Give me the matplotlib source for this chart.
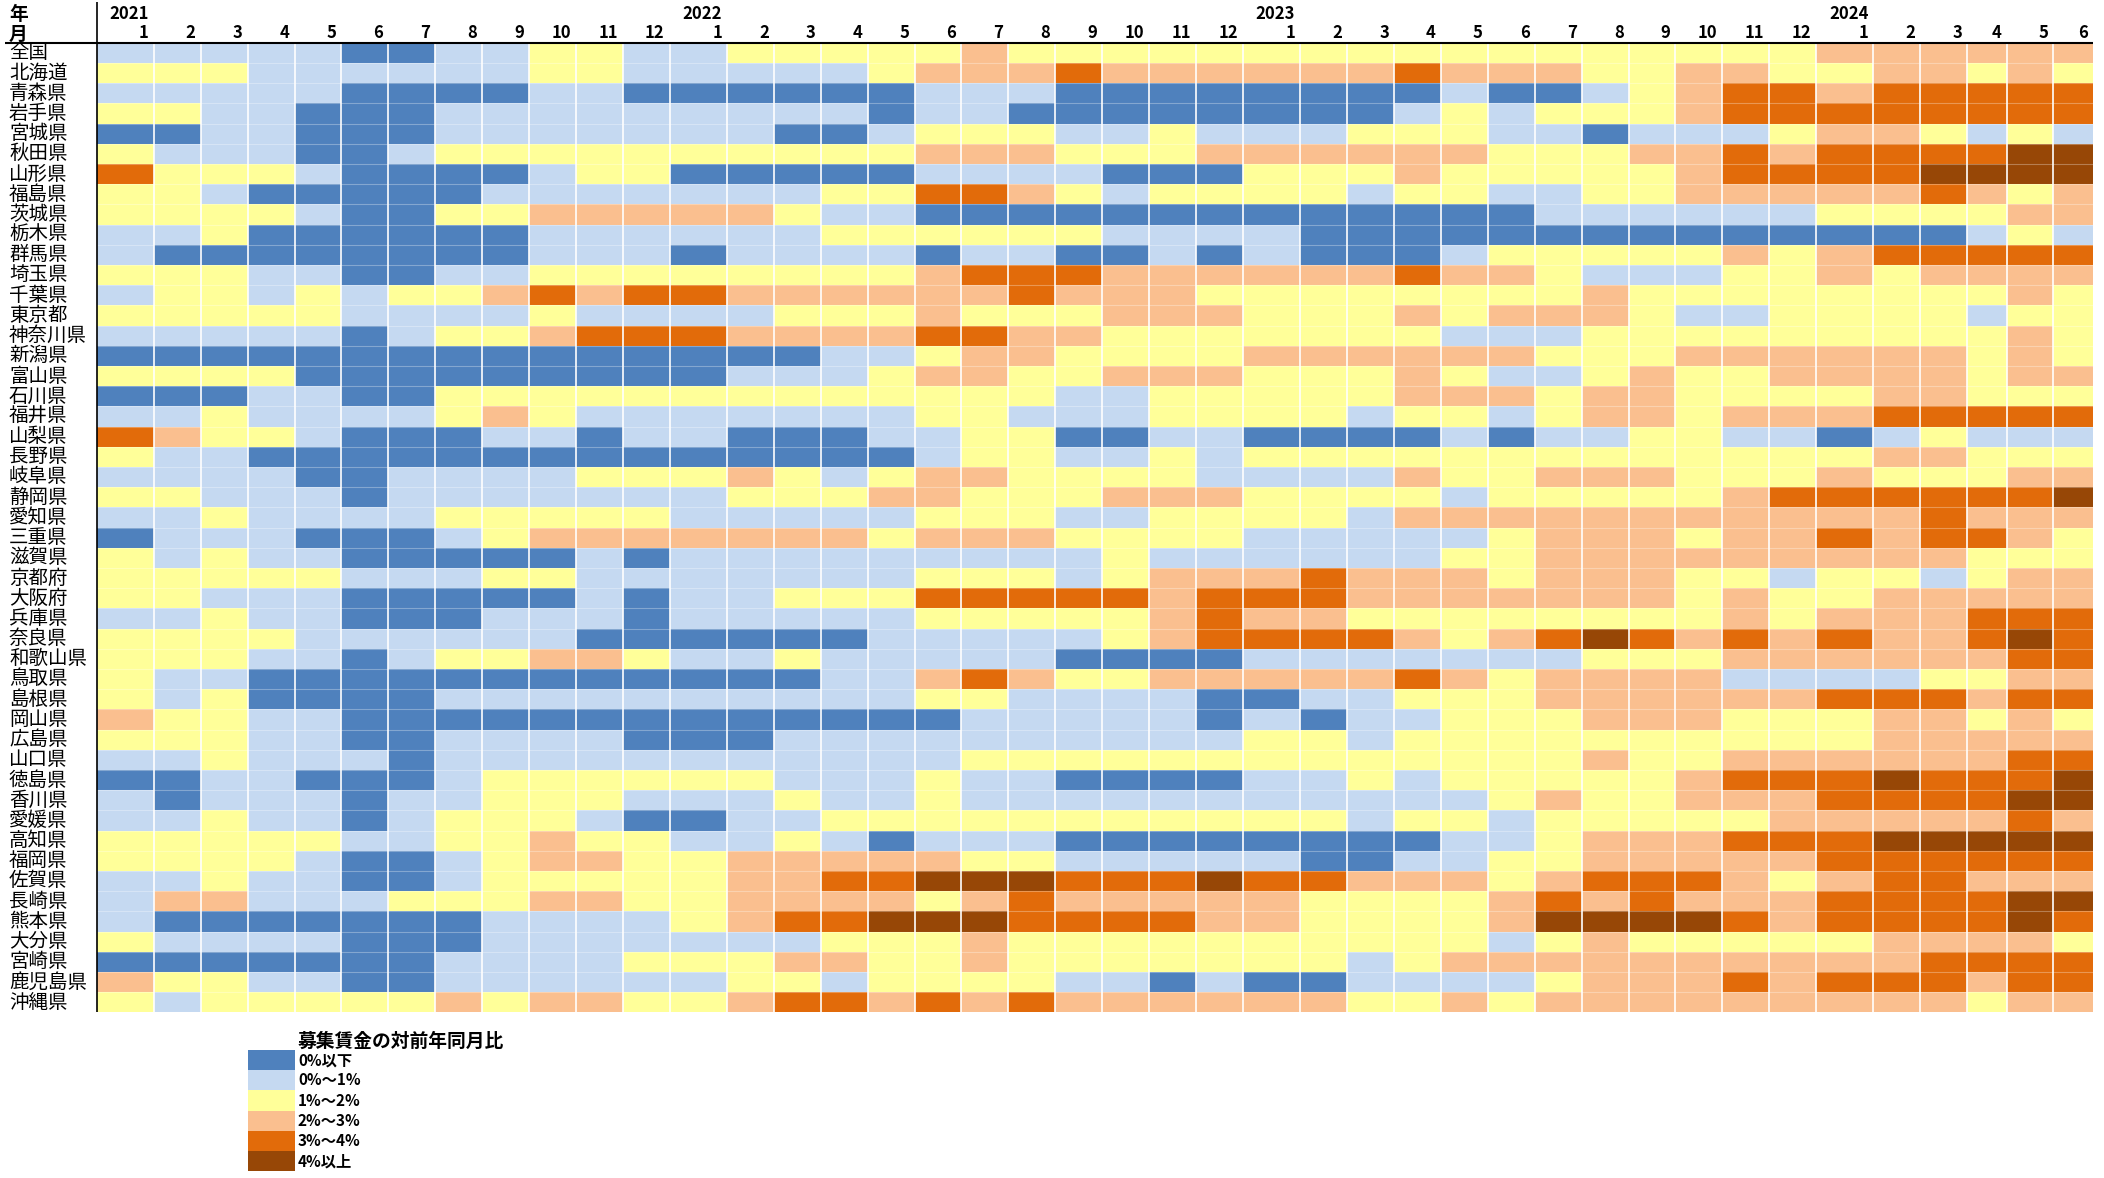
import numpy as np
import matplotlib
matplotlib.use("Agg")
import matplotlib.pyplot as plt
from matplotlib.colors import ListedColormap
from matplotlib.patches import Rectangle

plt.rcParams['font.family'] = ['Noto Sans CJK JP', 'DejaVu Sans']

# --- data -------------------------------------------------------------
prefectures = [
    "全国", "北海道", "青森県", "岩手県", "宮城県", "秋田県", "山形県", "福島県",
    "茨城県", "栃木県", "群馬県", "埼玉県", "千葉県", "東京都", "神奈川県", "新潟県",
    "富山県", "石川県", "福井県", "山梨県", "長野県", "岐阜県", "静岡県", "愛知県",
    "三重県", "滋賀県", "京都府", "大阪府", "兵庫県", "奈良県", "和歌山県", "鳥取県",
    "島根県", "岡山県", "広島県", "山口県", "徳島県", "香川県", "愛媛県", "高知県",
    "福岡県", "佐賀県", "長崎県", "熊本県", "大分県", "宮崎県", "鹿児島県", "沖縄県",
]
years = [2021, 2022, 2023, 2024]
months = list(range(1, 13)) * 3 + list(range(1, 7))

# class of the year-on-year change per month (0 = 0%以下 ... 5 = 4%以上)
# blocks: 2021 | 2022 | 2023 | 2024 (Jan-Jun)
levels = [
    "111110011221 122222322222 222222222222 333333",  # 全国
    "222111111221 111123334333 333433322332 233232",  # 北海道
    "111110000110 000001110000 000010012344 344444",  # 青森県
    "221100011111 111101100000 000121222344 444444",  # 岩手県
    "001100011111 110012221121 112221101112 332121",  # 宮城県
    "211100122222 222223332223 333332223343 444455",  # 秋田県
    "422210000122 000001111000 222322222344 445555",  # 山形県
    "221000001111 111224432122 221221122333 334323",  # 福島県
    "222210022333 332110000000 000000111111 222233",  # 茨城県
    "112000000111 111222222111 100000000000 000121",  # 栃木県
    "100000000111 011110110010 100012222232 344444",  # 群馬県
    "222110011222 222223444333 333433211122 323333",  # 埼玉県
    "122121223434 433333343332 222222232222 222232",  # 千葉県
    "222221111211 112223222333 222323332112 222122",  # 東京都
    "111110122344 433334433222 222211122222 222232",  # 神奈川県
    "000000000000 000112332222 333333222333 333232",  # 新潟県
    "222200000000 011123322333 222321123223 333233",  # 富山県
    "000110022222 222222221122 222333233222 233222",  # 石川県
    "112111123211 111112211122 221221233233 344444",  # 福井県
    "432210001101 100011220011 000010112211 012111",  # 山梨県
    "211000000000 000001221121 222222222222 233222",  # 長野県
    "111100111122 232123322221 111322333222 322233",  # 岐阜県
    "221110111111 122233222333 222212222234 444445",  # 静岡県
    "112111122222 111112221122 221333333333 334333",  # 愛知県
    "011100012333 333323332222 111112333233 434432",  # 三重県
    "212110000010 111111111211 111122333333 333222",  # 滋賀県
    "222221112211 111112221233 343332333221 221233",  # 京都府
    "221110000010 112224444434 443333333232 233333",  # 大阪府
    "112110001110 111112222234 332222222232 333444",  # 兵庫県
    "222211111100 000011111234 444323454343 433454",  # 奈良県
    "222110122332 112111110000 111111122233 333344",  # 和歌山県
    "211000000000 000113432233 333432333311 112233",  # 鳥取県
    "212000011111 111112211110 011222333333 444344",  # 島根県
    "322110000000 000000111110 101122233322 233232",  # 岡山県
    "222110011110 001111111111 221222222222 233333",  # 広島県
    "112111011111 111111222222 222222232233 333344",  # 山口県
    "001100012222 221112110000 112122222344 454445",  # 徳島県
    "101110112221 112112111111 111112322333 444455",  # 香川県
    "112110122210 011222222222 221221222223 333343",  # 愛媛県
    "222221122322 112101110000 000011233344 455555",  # 高知県
    "222210012332 233333221111 100112233333 444444",  # 福岡県
    "112110012222 233445554445 443332344432 344333",  # 佐賀県
    "133111222332 233332343333 322223434333 444455",  # 長崎県
    "100000001111 234455544443 322223555543 444454",  # 熊本県
    "211110001111 111222322222 222221232222 233332",  # 大分県
    "000000011112 223322322222 221233333333 334444",  # 宮崎県
    "322110011111 122122221101 001111233343 444344",  # 鹿児島県
    "212222232332 234434343333 332232333333 333233",  # 沖縄県
]

legend_title = "募集賃金の対前年同月比"
legend_labels = ["0%以下", "0%～1%", "1%～2%", "2%～3%", "3%～4%", "4%以上"]
colors = ["#4F81BD", "#C5D9F1", "#FFFF99", "#FABF8F", "#E26B0A", "#974706"]

grid = np.array([[int(c) for c in s.replace(" ", "")] for s in levels])

# --- layout (figure pixels) -------------------------------------------
W, H = 2104, 1178
x0, y0, row_h = 96.5, 42.7, 20.2

col_year = [y for y in years for _ in range(12)][:len(months)]
col_w = []
for yr, m in zip(col_year, months):
    if m == 1:
        col_w.append(57.3)
    elif yr == 2024 and m in (4, 6):
        col_w.append(39.3)
    else:
        col_w.append(46.9)
x_edges = x0 + np.concatenate([[0], np.cumsum(col_w)])
y_edges = y0 + row_h * np.arange(len(prefectures) + 1)

fig = plt.figure(figsize=(W / 100, H / 100), dpi=100)
ax = fig.add_axes([0, 0, 1, 1])
ax.set_xlim(0, W)
ax.set_ylim(H, 0)
ax.axis("off")

ax.pcolormesh(x_edges, y_edges, grid, cmap=ListedColormap(colors),
              vmin=-0.5, vmax=len(colors) - 0.5)
ax.vlines(x_edges[1:-1], y0, y_edges[-1], colors="white", lw=1.2)
ax.hlines(y_edges[1:-1], x0, x_edges[-1], colors="white", lw=0.8, alpha=0.3)

# frame lines of the table
ax.plot([5, x_edges[-1]], [y0, y0], color="black", lw=1.5, solid_capstyle="butt")
ax.plot([x0, x0], [2, y_edges[-1]], color="black", lw=1.2, solid_capstyle="butt")

# header
ax.text(9, 14, "年", fontsize=13.5, fontweight="bold", va="center", ha="left")
ax.text(9, 34, "月", fontsize=13.5, fontweight="bold", va="center", ha="left")
for j, (yr, m) in enumerate(zip(col_year, months)):
    xr = x_edges[j + 1] - 5
    ax.text(xr, 33.5, str(m), fontsize=12, fontweight="bold", ha="right", va="center")
    if m == 1:
        ax.text(xr, 14, str(yr), fontsize=12, fontweight="bold", ha="right", va="center")

for i, name in enumerate(prefectures):
    ax.text(9, y_edges[i] + row_h / 2, name, fontsize=14, ha="left", va="center")

# legend
lx, ly = 248, 1050
ax.text(298, ly - 9, legend_title, fontsize=13.5, fontweight="bold", ha="left", va="center")
for k, (lab, c) in enumerate(zip(legend_labels, colors)):
    ax.add_patch(Rectangle((lx, ly + k * row_h), 47, row_h, facecolor=c, edgecolor="none"))
    ax.text(298, ly + k * row_h + row_h / 2, lab, fontsize=11, fontweight="bold",
            ha="left", va="center")

fig.savefig("out.png", dpi=100)
plt.close(fig)
